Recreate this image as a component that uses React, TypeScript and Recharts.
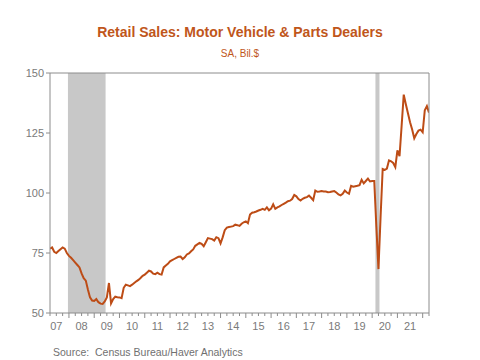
import { LineChart, Line, XAxis, YAxis, ReferenceArea, ReferenceLine } from "recharts";

// monthly, SA, bil. $ — series starts Apr 2007
const START_YEAR = 2007;
const START_MONTH = 4;

const sales2007 = [76.8, 77.3, 75.5, 75.0, 75.8, 76.6, 77.3, 76.8, 75.0];
const sales2008 = [73.8, 73.0, 72.0, 71.0, 70.0, 69.0, 66.5, 64.5, 63.5, 59.8, 56.5, 55.2];
const sales2009 = [55.0, 55.8, 54.5, 53.9, 53.8, 54.8, 56.5, 62.5, 54.0, 55.8, 56.8, 56.6];
const sales2010 = [56.5, 56.2, 60.5, 61.8, 61.5, 61.2, 61.8, 62.5, 63.2, 63.8, 64.6, 65.5];
const sales2011 = [66.0, 66.8, 67.6, 67.3, 66.4, 66.2, 66.8, 66.2, 66.0, 69.0, 69.8, 70.5];
const sales2012 = [71.5, 72.0, 72.5, 73.0, 73.4, 73.5, 72.5, 73.2, 74.4, 74.8, 75.7, 76.5];
const sales2013 = [78.0, 78.6, 79.2, 78.8, 77.8, 79.5, 81.2, 81.0, 80.8, 80.2, 81.6, 81.2];
const sales2014 = [79.0, 81.5, 84.5, 85.6, 85.8, 86.0, 86.2, 86.8, 86.6, 86.3, 87.2, 87.8];
const sales2015 = [88.2, 87.4, 91.0, 91.8, 92.0, 92.3, 92.7, 93.0, 93.4, 93.0, 94.0, 92.8];
const sales2016 = [93.5, 95.3, 93.4, 94.0, 94.4, 95.0, 95.5, 96.0, 96.6, 96.8, 97.5, 99.2];
const sales2017 = [98.6, 97.5, 96.9, 97.6, 98.0, 98.3, 98.9, 98.0, 97.0, 101.0, 100.5, 100.6];
const sales2018 = [100.8, 100.6, 100.6, 100.3, 100.4, 100.6, 100.8, 100.2, 99.4, 99.0, 99.7, 101.0];
const sales2019 = [100.2, 99.7, 103.0, 102.6, 102.8, 103.0, 103.3, 105.5, 104.0, 105.0, 106.0, 104.8];
const sales2020 = [105.0, 105.0, 86.0, 68.3, 90.0, 110.0, 109.6, 110.2, 113.6, 113.2, 112.5, 110.8];
const sales2021 = [117.8, 115.3, 128.0, 141.0, 137.0, 133.2, 129.5, 126.5, 122.8, 124.6, 126.0, 126.4];
const sales2022 = [125.3, 134.5, 136.2, 133.5];

const salesByYear = [
  sales2007, sales2008, sales2009, sales2010, sales2011, sales2012, sales2013, sales2014,
  sales2015, sales2016, sales2017, sales2018, sales2019, sales2020, sales2021, sales2022,
];

const yearLabels = ["07", "08", "09", "10", "11", "12", "13", "14", "15", "16", "17", "18", "19", "20", "21"];
const yTicks = [50, 75, 100, 125, 150];
const recessions = [
  { start: 2007.96, end: 2009.45 },
  { start: 2020.13, end: 2020.29 },
];

const X_MIN = 2007.25;
const X_MAX = 2022.25;

const ORANGE = "#c0561b";
const LINE = "#bd4c16";
const AXIS = "#8c8c8c";
const TEXT = "#7a7a7a";
const FONT = "'Liberation Sans', Arial, sans-serif";

const data = salesByYear.flat().map((v, i) => ({
  t: START_YEAR + (START_MONTH - 1 + i) / 12,
  v,
}));

const quarterTicks: number[] = [];
for (let q = X_MIN; q <= X_MAX + 1e-9; q += 0.25) quarterTicks.push(q);

function YearTick(props: any) {
  const { x, y, payload } = props;
  const val: number = payload.value;
  const frac = val - Math.floor(val);
  const major = frac === 0;
  const idx = Math.floor(val) - START_YEAR;
  return (
    <g>
      <line x1={x} x2={x} y1={y} y2={y + (major ? 5 : 3)} stroke={AXIS} strokeWidth={1} />
      {frac === 0.5 && yearLabels[idx] && (
        <text x={x} y={y + 13} textAnchor="middle" dominantBaseline="central" fill={TEXT} fontSize={11} fontFamily={FONT}>
          {yearLabels[idx]}
        </text>
      )}
    </g>
  );
}

export default function App() {
  return (
    <div style={{ position: "absolute", left: 0, top: 0, width: 480, height: 360, background: "#fff", fontFamily: FONT }}>
      <div style={{ position: "absolute", top: 24, width: 480, textAlign: "center", color: ORANGE, fontWeight: "bold", fontSize: 14 }}>
        Retail Sales: Motor Vehicle &amp; Parts Dealers
      </div>
      <div style={{ position: "absolute", top: 48, width: 480, textAlign: "center", color: ORANGE, fontSize: 10 }}>
        SA, Bil.$
      </div>
      <LineChart width={480} height={360} data={data} margin={{ top: 73, right: 0, bottom: 17, left: 0 }}>
        {recessions.map((r) => (
          <ReferenceArea key={r.start} yAxisId="left" x1={r.start} x2={r.end} fill="#c8c8c8" fillOpacity={1} stroke="none" />
        ))}
        <XAxis
          dataKey="t"
          type="number"
          domain={[X_MIN, X_MAX]}
          ticks={quarterTicks}
          interval={0}
          tick={<YearTick />}
          tickLine={false}
          tickSize={0}
          tickMargin={0}
          height={30}
          axisLine={{ stroke: AXIS }}
          allowDataOverflow
        />
        <YAxis
          yAxisId="left"
          domain={[50, 150]}
          ticks={yTicks}
          width={50}
          tickSize={4}
          tickMargin={2}
          axisLine={{ stroke: AXIS }}
          tickLine={{ stroke: AXIS }}
          tick={{ fill: TEXT, fontSize: 11, fontFamily: FONT }}
        />
        <YAxis
          yAxisId="right"
          orientation="right"
          domain={[50, 150]}
          ticks={yTicks}
          width={51}
          tickSize={4}
          tickMargin={2}
          axisLine={{ stroke: AXIS }}
          tickLine={{ stroke: AXIS }}
          tick={{ fill: TEXT, fontSize: 11, fontFamily: FONT }}
        />
        <ReferenceLine yAxisId="left" y={150} stroke={AXIS} />
        <Line
          yAxisId="left"
          type="linear"
          dataKey="v"
          stroke={LINE}
          strokeWidth={2}
          dot={false}
          isAnimationActive={false}
        />
      </LineChart>
      <div style={{ position: "absolute", left: 53, top: 346, color: "#707070", fontSize: 10.5 }}>
        Source:&nbsp; Census Bureau/Haver Analytics
      </div>
    </div>
  );
}
